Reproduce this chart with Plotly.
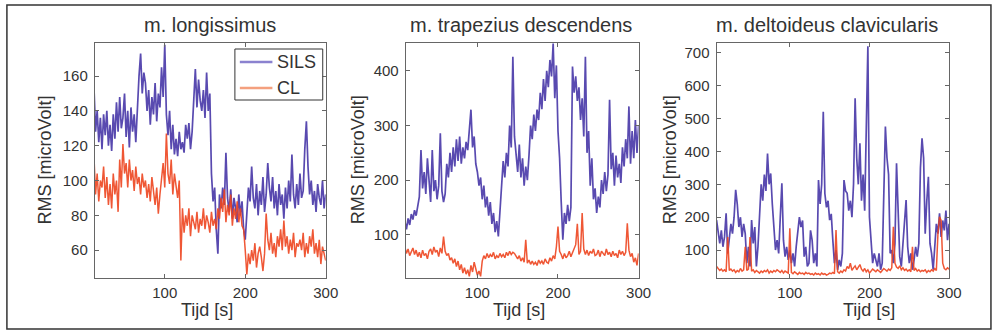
import plotly.graph_objects as go

# time grid [s]
t = list(range(8, 301, 2))

# m. longissimus
long_sils = [150,142,154,128,140,122,136,118,138,126,
             140,120,132,117,138,124,145,128,148,130,
             136,150,125,140,119,142,128,138,122,146,
             160,173,150,162,156,140,152,132,148,138,
             156,134,150,142,165,148,178,138,126,140,
             118,132,115,124,114,128,118,122,116,132,
             124,133,118,128,150,164,142,158,146,140,
             152,136,162,140,150,104,88,96,72,58,
             92,84,96,86,116,90,82,95,78,90,
             84,76,92,80,88,72,66,82,96,88,
             108,90,84,98,80,94,86,102,82,92,
             110,96,88,102,84,94,80,98,86,92,
             78,96,84,100,88,115,92,84,98,86,
             104,90,94,118,134,108,92,100,86,94,
             82,98,90,86,100,84,92]
long_cl = [112,98,114,92,104,88,100,96,108,90,
           102,86,98,84,104,92,100,82,112,96,
           121,104,110,96,112,100,106,94,108,98,
           102,92,104,96,100,90,98,88,102,94,
           86,96,81,92,100,110,96,127,104,98,
           112,92,104,96,90,100,54,84,70,80,
           74,84,68,80,76,72,82,70,78,74,
           84,72,80,76,70,82,74,78,72,84,
           78,90,82,95,76,86,80,92,74,84,
           78,88,76,84,74,72,60,46,58,52,
           60,54,64,50,58,62,56,48,58,81,
           66,60,70,58,64,56,68,62,72,60,
           77,62,68,58,66,60,70,56,64,62,
           66,60,70,56,64,58,68,62,72,58,
           64,56,66,52,62,58,54]

# m. trapezius descendens
trap_sils = [112,125,110,130,118,138,128,145,135,155,
             170,255,185,215,175,240,190,160,255,180,
             200,165,190,286,180,160,175,230,205,250,
             215,260,225,275,235,280,230,260,240,270,
             255,290,329,260,280,230,215,190,205,165,
             190,150,170,135,160,120,140,105,125,97,
             140,180,235,205,250,225,300,260,426,280,
             250,215,265,205,240,190,225,200,245,300,
             275,320,290,329,310,360,330,385,345,400,
             370,420,390,450,350,410,290,240,160,91,
             140,120,155,125,150,408,360,390,345,370,
             310,350,280,426,250,290,190,240,165,185,
             140,170,150,200,175,215,180,210,347,220,
             250,190,245,205,230,195,260,225,275,240,
             335,230,290,240,310,250,300]
trap_cl = [72,78,66,74,62,70,76,64,72,60,
           68,58,72,62,66,56,70,74,64,78,
           68,72,60,76,66,97,70,62,66,54,
           58,48,56,42,52,36,46,30,40,28,
           36,24,44,32,50,38,26,34,24,52,
           62,56,66,58,64,60,68,56,62,58,
           66,60,64,58,68,62,70,64,68,66,
           60,56,62,52,58,50,91,48,54,46,
           52,46,50,44,54,48,52,46,56,50,
           48,58,52,62,56,78,115,70,64,56,
           66,58,62,70,60,68,74,82,120,64,
           70,140,74,64,72,62,70,66,74,62,
           64,72,60,70,66,62,74,64,68,60,
           70,62,66,58,72,64,70,62,68,121,
           72,60,66,50,58,44,66]

# m. deltoideus clavicularis
delt_sils = [191,150,120,160,110,140,212,90,130,180,
             150,200,283,240,170,200,140,180,150,60,
             110,50,191,120,170,50,110,220,300,250,
             330,280,394,300,333,240,150,100,130,90,
             200,303,130,80,110,70,100,60,90,50,
             110,150,200,170,190,80,110,50,60,160,
             130,60,90,50,313,240,300,521,272,230,
             250,191,210,130,60,100,40,70,50,90,
             313,280,273,220,250,200,300,562,380,300,
             425,250,330,220,480,720,200,110,60,90,
             70,50,90,40,60,300,476,380,330,90,
             100,60,120,364,200,80,50,120,180,252,
             110,60,90,40,70,110,80,120,350,440,
             380,150,250,323,120,90,40,110,180,150,
             212,140,190,160,220,130,180]
delt_cl = [50,44,38,42,36,40,34,140,38,42,
           36,40,32,38,34,44,36,40,110,38,
           42,140,36,40,32,38,34,30,36,32,
           38,34,40,30,36,32,38,34,40,36,
           32,38,30,36,34,30,166,32,28,34,
           30,26,32,28,30,26,32,28,30,26,
           28,24,30,26,28,24,30,26,28,24,
           26,30,28,32,28,161,34,30,36,32,
           40,36,50,44,60,38,46,52,40,48,
           56,42,36,44,34,40,30,36,42,38,
           34,40,36,32,38,44,40,36,42,38,
           46,171,60,48,44,52,40,46,38,42,
           36,40,34,110,38,44,36,40,34,38,
           36,40,32,38,34,40,36,44,38,150,
           201,190,60,44,40,46,42]

titles = ["m. longissimus", "m. trapezius descendens", "m. deltoideus clavicularis"]
series_names = ["SILS", "CL"]
x_ticks = [100, 200, 300]
y_ticks = [[60, 80, 100, 120, 140, 160],
           [100, 200, 300, 400],
           [100, 200, 300, 400, 500, 600, 700]]
y_ranges = [[44, 179], [21, 451], [15, 730]]
x_ranges = [[13, 300], [11, 300], [8, 300.5]]

W, H = 1000, 334
FONT = "Liberation Sans, Arial, Helvetica, sans-serif"
SILS_C = "#4232a6"
CL_C = "#ee4520"
SILS_LEG = "#8b82cf"
CL_LEG = "#f4a07e"

# pixel layout of plot areas
px_x = [(96, 330), (411, 647), (726, 962)]
px_y = (43, 278)

fig = go.Figure()
data = [(long_sils, long_cl), (trap_sils, trap_cl), (delt_sils, delt_cl)]
for i, (s, c) in enumerate(data):
    xa = "x" if i == 0 else f"x{i+1}"
    ya = "y" if i == 0 else f"y{i+1}"
    fig.add_trace(go.Scatter(x=t, y=s, mode="lines", xaxis=xa, yaxis=ya,
                             line=dict(color=SILS_C, width=1.7), opacity=0.88,
                             showlegend=False, name=series_names[0]))
    fig.add_trace(go.Scatter(x=t, y=c, mode="lines", xaxis=xa, yaxis=ya,
                             line=dict(color=CL_C, width=1.5), opacity=0.9,
                             showlegend=False, name=series_names[1]))

axis_common = dict(showline=True, linecolor="#666", linewidth=1, mirror="ticks",
                   ticks="inside", ticklen=4, tickcolor="#666", showgrid=False,
                   zeroline=False, tickfont=dict(family=FONT, size=15, color="#333"))

layout = dict(width=W, height=H, margin=dict(l=0, r=0, t=0, b=0),
              paper_bgcolor="white", plot_bgcolor="white", showlegend=False,
              font=dict(family=FONT, color="#333"))
for i in range(3):
    sx = "" if i == 0 else str(i + 1)
    x0, x1 = px_x[i]
    layout[f"xaxis{sx}"] = dict(axis_common, domain=[x0 / W, x1 / W],
                                range=x_ranges[i], tickvals=x_ticks,
                                anchor=f"y{sx}", ticklabelstandoff=1)
    layout[f"yaxis{sx}"] = dict(axis_common, domain=[1 - px_y[1] / H, 1 - px_y[0] / H],
                                range=y_ranges[i], tickvals=y_ticks[i],
                                anchor=f"x{sx}", ticklabelstandoff=3)
fig.update_layout(**layout)

ann = []
title_cx = [213, 528, 838]
xlab_cx = [210, 526, 880]
ylab_cx = [46, 363, 679]
for i in range(3):
    ann.append(dict(text=titles[i], x=title_cx[i] / W, y=1 - 25 / H, xref="paper", yref="paper",
                    showarrow=False, xanchor="center", yanchor="middle",
                    font=dict(family=FONT, size=20, color="#333")))
    ann.append(dict(text="Tijd [s]", x=xlab_cx[i] / W, y=1 - 310 / H, xref="paper", yref="paper",
                    showarrow=False, xanchor="center", yanchor="middle",
                    font=dict(family=FONT, size=18, color="#333")))
    ann.append(dict(text="RMS [microVolt]", x=ylab_cx[i] / W, y=1 - 160 / H, xref="paper",
                    yref="paper", showarrow=False, xanchor="center", yanchor="middle",
                    textangle=-90, font=dict(family=FONT, size=18, color="#333")))

# legend box (drawn in paper coordinates, upper right of the first panel)
leg_x0, leg_x1, leg_y0, leg_y1 = 238, 327, 49, 100
leg_rows = [62, 88]
leg_cols = [SILS_LEG, CL_LEG]
fig.add_shape(type="rect", xref="paper", yref="paper", x0=leg_x0 / W, x1=leg_x1 / W,
              y0=1 - leg_y1 / H, y1=1 - leg_y0 / H, fillcolor="white",
              line=dict(color="#333", width=1), layer="above")
for name, yy, col in zip(series_names, leg_rows, leg_cols):
    fig.add_shape(type="line", xref="paper", yref="paper", x0=243 / W, x1=276 / W,
                  y0=1 - yy / H, y1=1 - yy / H, line=dict(color=col, width=2.5), layer="above")
    ann.append(dict(text=name, x=279 / W, y=1 - yy / H, xref="paper", yref="paper",
                    showarrow=False, xanchor="left", yanchor="middle",
                    font=dict(family=FONT, size=18, color="#333")))
fig.update_layout(annotations=ann)

# outer frame of the figure
fig.add_shape(type="rect", xref="paper", yref="paper", x0=7 / W, x1=1004 / W,
              y0=1 - 329 / H, y1=1 - 5 / H, line=dict(color="#333", width=1.5))

fig.write_html("out.html", config={"displayModeBar": False},
               post_script="document.body.style.margin='0';document.body.style.overflow='hidden';")
